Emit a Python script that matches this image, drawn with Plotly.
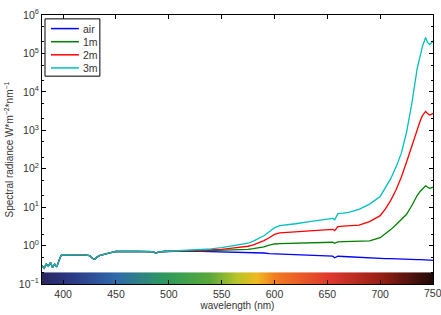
import plotly.graph_objects as go

wavelength = [380,382,384,386,388,390,392,394,396,398,400,405,410,415,420,425,428,430,432,435,
              440,445,450,455,460,465,470,475,480,485,488,490,495,500,510,520,530,540,550,560,
              570,575,580,585,590,595,600,605,610,620,630,640,650,655,657,660,665,670,680,690,
              700,705,710,715,720,725,730,735,738,740,743,745,747,750]

common_start = [0.30,0.26,0.33,0.29,0.36,0.27,0.33,0.28,0.40,0.55,0.58,0.58,0.57,0.58,0.57,0.55,0.46,0.44,0.50,0.56,
                0.62,0.66,0.70,0.69,0.71,0.70,0.71,0.70,0.71,0.69,0.63,0.68,0.70,0.71]

air_tail = [0.71,0.72,0.71,0.70,0.69,0.68,0.67,0.66,0.66,0.65,0.64,0.62,0.61,0.60,0.59,0.58,0.56,0.55,0.54,0.53,
            0.48,0.53,0.52,0.51,0.50,0.48,0.47,0.46,0.46,0.45,0.45,0.44,0.44,0.43,0.43,0.43,0.42,0.42,0.42,0.41]
m1_tail = [0.72,0.73,0.73,0.74,0.75,0.77,0.79,0.80,0.83,0.87,0.92,1.02,1.10,1.12,1.13,1.15,1.17,1.19,1.21,1.22,
           1.15,1.25,1.26,1.27,1.28,1.32,1.6,2.0,2.6,3.5,4.8,6.5,11,20,26,30,36,33,31,33]
m2_tail = [0.72,0.74,0.75,0.77,0.80,0.86,0.92,0.96,1.05,1.18,1.35,1.6,1.95,2.15,2.2,2.3,2.4,2.5,2.6,2.65,
           2.45,3.1,3.2,3.25,3.4,4.2,6.0,9,15,28,60,150,400,1100,1800,2400,3100,2700,2500,2750]
m3_tail = [0.73,0.75,0.78,0.82,0.88,0.98,1.08,1.15,1.3,1.5,1.8,2.3,2.9,3.3,3.4,3.7,4.1,4.5,4.9,5.1,
           4.7,6.8,7.0,7.3,8.8,12,19,32,55,110,250,900,5000,40000,90000,150000,260000,190000,170000,210000]

series_names = ["air", "1m", "2m", "3m"]
series_values = [common_start + air_tail, common_start + m1_tail,
                 common_start + m2_tail, common_start + m3_tail]
series_colors = ["#0000ff", "#008000", "#ff0000", "#00bfbf"]

x_ticks = [400, 450, 500, 550, 600, 650, 700, 750]
x_ticklabels = ["400", "450", "500", "550", "600", "650", "700", "750"]
y_exponents = [-1, 0, 1, 2, 3, 4, 5, 6]

# spectrum strip
strip_edges = list(range(380, 752, 2))
strip_centers = [w + 1 for w in strip_edges[:-1]]
spectrum_scale = [
    [0.00, "#2a2660"], [0.08, "#2c3a86"], [0.19, "#2f6aa8"], [0.32, "#2f9a5a"],
    [0.43, "#5aa83a"], [0.50, "#b8c428"], [0.55, "#f0b820"], [0.60, "#f07a20"],
    [0.73, "#e03a2e"], [0.86, "#9a2016"], [1.00, "#1e0a08"],
]

FONT = "Liberation Sans, Arial, sans-serif"
TXT = "#333333"

fig = go.Figure()
fig.add_trace(go.Heatmap(x=strip_edges, y=[0, 0.043], z=[strip_centers],
                         colorscale=spectrum_scale, zmin=380, zmax=750,
                         showscale=False, hoverinfo="skip", yaxis="y2"))
for name, vals, col in zip(series_names, series_values, series_colors):
    fig.add_trace(go.Scatter(x=wavelength, y=vals, mode="lines", name=name,
                             line=dict(color=col, width=1.3), showlegend=False))

# manual legend (box, line samples, labels)
shapes = [dict(type="rect", xref="paper", yref="paper", x0=0.0077, x1=0.148, y0=0.7726, y1=0.9856,
               line=dict(color="black", width=1), fillcolor="white", layer="above")]
annotations = []
for i, (name, col) in enumerate(zip(series_names, series_colors)):
    yp = (287 - (24 + 13.5 * i)) / 277
    shapes.append(dict(type="line", xref="paper", yref="paper", x0=0.023, x1=0.0944, y0=yp, y1=yp,
                       line=dict(color=col, width=1.5), layer="above"))
    annotations.append(dict(xref="paper", yref="paper", x=0.10, y=yp, text=name, showarrow=False,
                            xanchor="left", yanchor="middle", font=dict(family=FONT, size=10.5, color=TXT)))

# last tick label sits on the figure edge and is cut off, as in the reference
annotations.append(dict(xref="x", yref="paper", x=x_ticks[-1], y=0, yanchor="top", xanchor="center",
                        yshift=-1, text=x_ticklabels[-1], showarrow=False,
                        font=dict(family=FONT, size=10.5, color=TXT)))

fig.update_layout(
    width=441, height=315,
    margin=dict(l=42, r=7, t=10, b=28),
    paper_bgcolor="white", plot_bgcolor="white",
    font=dict(family=FONT, size=10, color=TXT),
    showlegend=False,
    shapes=shapes, annotations=annotations,
    xaxis=dict(range=[380, 750], tickvals=x_ticks, ticktext=x_ticklabels[:-1] + [""],
               ticks="inside", ticklen=4, tickcolor="black", showgrid=False, zeroline=False,
               showline=True, linecolor="black", linewidth=1, mirror="ticks",
               title=dict(text="wavelength (nm)", standoff=1, font=dict(family=FONT, size=10, color=TXT)),
               tickfont=dict(family=FONT, size=10.5, color=TXT)),
    yaxis=dict(type="log", range=[-1, 6],
               tickvals=[10.0 ** e for e in y_exponents],
               ticktext=["10<sup>%d</sup>" % e if e >= 0 else "10<sup>−%d</sup>" % (-e) for e in y_exponents],
               ticks="inside", ticklen=4, tickcolor="black", showgrid=False, zeroline=False,
               showline=True, linecolor="black", linewidth=1, mirror="ticks",
               minor=dict(ticks="inside", ticklen=2, tickcolor="black", showgrid=False),
               title=dict(text="Spectral radiance W*m<sup>−2</sup>*nm<sup>−1</sup>", standoff=3,
                          font=dict(family=FONT, size=10, color=TXT)),
               tickfont=dict(family=FONT, size=10.5, color=TXT)),
    yaxis2=dict(range=[0, 1], overlaying="y", visible=False, fixedrange=True),
)

fig.write_html("out.html")
